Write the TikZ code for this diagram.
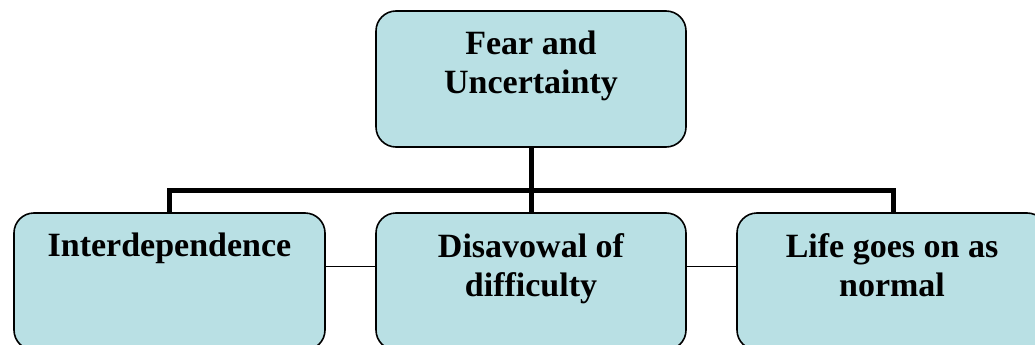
\documentclass[tikz,border=0pt]{standalone}
\usepackage{fontspec}
\setmainfont{Liberation Serif}
\usetikzlibrary{calc}
\definecolor{boxfill}{RGB}{185,224,228}
\tikzset{
  card/.style={draw=black, line width=1.6pt, fill=boxfill, rounded corners=20pt, inner sep=0pt, minimum width=310pt, minimum height=136pt},
  cardtext/.style={anchor=north, inner sep=0pt, align=center, font=\bfseries\fontsize{34}{39}\selectfont},
  thick bus/.style={line width=5pt},
  thin link/.style={line width=1.4pt},
}
\begin{document}
\begin{tikzpicture}[x=1pt,y=-1pt]
\useasboundingbox (0,0) rectangle (1035,345);
\clip (0,0) rectangle (1035,345);
\node[card] (top) at (531,79) {};
\node[card, minimum width=311pt, minimum height=137pt] (left) at (169.5,281.5) {};
\node[card, minimum height=137pt] (mid) at (531,281.5) {};
\node[card, minimum height=137pt] (right) at (892,281.5) {};
\coordinate (busL) at (169,190);
\coordinate (busR) at (893,190);
\draw[thick bus] (top.south) -- (mid.north);
\draw[thick bus, line cap=rect] (busL) -- (busR);
\draw[thick bus] (busL) -- (busL |- left.north);
\draw[thick bus] (busR) -- (busR |- right.north);
\draw[thin link] ([yshift=-54pt]left.north east) -- ([yshift=-54pt]mid.north west);
\draw[thin link] ([yshift=-54pt]mid.north east) -- ([yshift=-54pt]right.north west);
\node[cardtext] (toptext) at ([yshift=-21pt]top.north) {Fear and\\Uncertainty};
\node[cardtext] (lefttext) at ([yshift=-21pt]left.north) {Interdependence};
\node[cardtext] (midtext) at ([yshift=-21pt]mid.north) {Disavowal of\\difficulty};
\node[cardtext] (righttext) at ([yshift=-21pt]right.north) {Life goes on as\\normal};
\end{tikzpicture}
\end{document}
